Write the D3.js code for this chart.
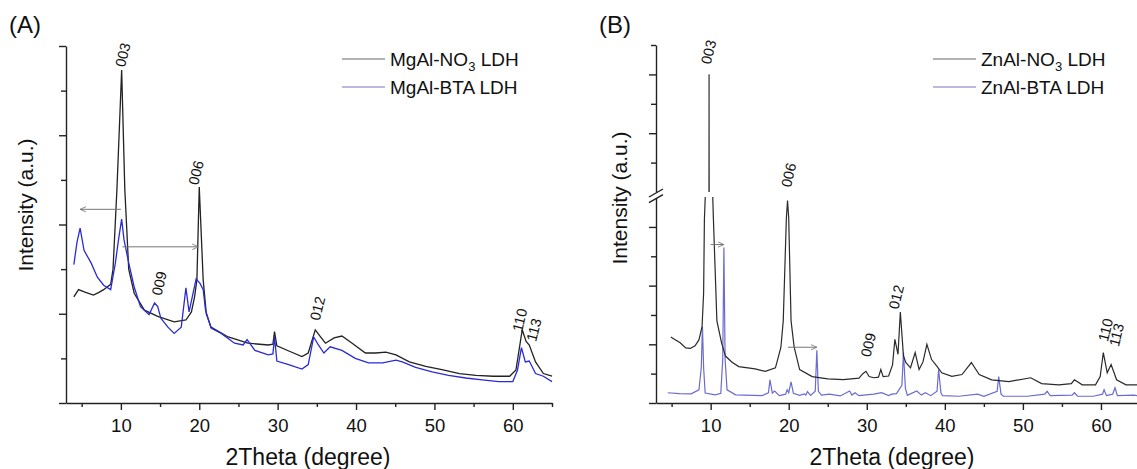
<!DOCTYPE html>
<html>
<head>
<meta charset="utf-8">
<script src="https://cdn.jsdelivr.net/npm/d3@7"></script>
<style>
  body { margin: 0; background: #fff; }
  svg { font-family: "Liberation Sans", Arial, sans-serif; }
  .axis path, .axis line { stroke: #222; stroke-width: 1.4; }
  .axis text { font-size: 18.5px; fill: #111; }
</style>
</head>
<body>
<svg width="1137" height="469"></svg>
<script>
// 2theta / intensity pairs (arbitrary units)
const mgNO3 = [
  [4.0,1.19],[4.6,1.27],[5.5,1.24],[6.5,1.21],[7.2,1.24],[7.8,1.27],[8.7,1.33],[9.0,1.5],[9.5,2.4],
  [10.1,3.73],[10.5,2.4],[11.0,1.5],[11.7,1.23],[13.0,1.04],[14.7,0.97],[16.8,0.91],[18.3,0.93],
  [19.0,1.02],[19.4,1.19],[19.7,1.38],[20.0,2.42],[20.5,1.38],[20.9,1.0],[21.5,0.85],[23.7,0.74],
  [26.2,0.67],[28.8,0.65],[29.4,0.66],[29.6,0.8],[29.9,0.64],[31.5,0.58],[33.1,0.52],[33.9,0.56],
  [34.8,0.82],[35.4,0.75],[36.1,0.67],[37.2,0.73],[38.2,0.75],[39.5,0.67],[41.2,0.56],[42.5,0.56],
  [43.8,0.57],[45.1,0.54],[46.8,0.46],[48.9,0.41],[51.1,0.37],[53.2,0.33],[55.3,0.31],[57.5,0.3],
  [59.6,0.3],[60.4,0.37],[61.2,0.82],[61.7,0.69],[62.1,0.65],[62.9,0.46],[63.9,0.33],[65.0,0.3]
];
const mgBTA = [
  [4.0,1.55],[4.4,1.8],[4.8,1.96],[5.3,1.71],[6.2,1.57],[7.0,1.41],[7.8,1.32],[8.7,1.27],[9.3,1.57],
  [9.7,1.83],[10.1,2.06],[10.4,1.83],[11.0,1.57],[11.7,1.3],[12.5,1.08],[13.6,0.99],[14.3,1.12],
  [14.7,1.08],[15.1,0.95],[16.0,0.85],[16.8,0.78],[17.7,0.85],[18.3,1.29],[18.7,1.02],[19.6,1.39],
  [20.1,1.34],[20.5,1.27],[20.8,1.04],[21.5,0.84],[22.8,0.78],[24.5,0.67],[25.6,0.65],[26.1,0.71],
  [27.1,0.59],[28.8,0.54],[29.4,0.55],[29.6,0.74],[29.9,0.47],[31.4,0.43],[33.1,0.38],[33.9,0.43],
  [34.6,0.74],[35.2,0.65],[35.9,0.56],[36.7,0.63],[38.2,0.59],[39.9,0.5],[41.6,0.45],[43.4,0.45],
  [45.1,0.48],[45.9,0.46],[47.6,0.4],[49.7,0.35],[51.8,0.31],[54.0,0.28],[56.1,0.26],[58.2,0.24],
  [60.0,0.24],[60.6,0.37],[61.1,0.62],[61.6,0.46],[62.1,0.47],[62.9,0.33],[63.9,0.3],[65.0,0.24]
];
const znNO3 = [
  [4.9,2.25],[5.5,2.15],[6.1,2.05],[6.8,1.88],[7.4,1.86],[8.0,1.95],[8.5,2.15],[8.9,2.6],[9.1,3.75],
  [9.2,6.25],[9.35,7.3],[9.75,7.6],[9.8,12.0],[9.85,7.6],[10.25,7.2],[10.35,6.3],[10.8,2.8],
  [11.4,2.05],[11.9,1.6],[12.7,1.4],[13.6,1.24],[15.7,1.16],[17.0,1.08],[18.3,1.2],[18.7,1.6],
  [19.0,1.9],[19.3,2.8],[19.7,6.3],[19.85,6.9],[20.0,6.3],[20.3,2.8],[20.7,1.9],[21.4,1.14],
  [23.0,0.9],[25.0,0.82],[27.0,0.8],[29.0,0.85],[29.5,1.0],[29.9,1.08],[30.3,0.9],[30.9,0.86],
  [31.5,0.88],[31.8,1.14],[32.1,0.9],[32.8,0.92],[33.3,1.3],[33.6,2.17],[34.0,1.66],[34.3,3.1],
  [34.7,1.6],[35.0,1.38],[35.6,1.2],[36.2,1.72],[36.7,1.14],[37.2,1.4],[37.7,2.0],[38.3,1.48],
  [39.0,1.25],[39.6,1.03],[40.9,0.91],[42.2,0.97],[43.4,1.38],[44.4,0.97],[46.0,0.79],[48.2,0.73],
  [51.0,0.86],[52.4,0.66],[54.6,0.62],[56.2,0.66],[56.6,0.79],[57.6,0.62],[59.3,0.62],[59.9,0.9],
  [60.3,1.72],[60.8,1.03],[61.3,1.31],[62.0,0.79],[63.2,0.62],[64.5,0.62],[65.0,0.6]
];
const znBTA = [
  [4.5,0.35],[6.0,0.32],[7.5,0.31],[8.5,0.45],[8.8,1.2],[8.95,2.6],[9.1,1.2],[9.3,0.34],[10.6,0.28],
  [11.3,0.33],[11.55,1.5],[11.7,5.3],[11.85,1.5],[12.1,0.45],[13.2,0.28],[16.6,0.25],[17.4,0.35],
  [17.6,0.79],[17.9,0.34],[18.2,0.41],[18.8,0.25],[19.6,0.3],[19.8,0.45],[20.0,0.35],[20.3,0.72],
  [20.6,0.33],[21.4,0.26],[22.0,0.31],[22.2,0.27],[22.4,0.39],[22.8,0.26],[23.4,0.4],[23.6,1.8],
  [23.8,0.4],[24.2,0.27],[25.2,0.3],[26.6,0.24],[27.8,0.41],[28.1,0.27],[28.5,0.35],[29.0,0.25],
  [30.9,0.3],[31.9,0.35],[32.8,0.25],[33.2,0.3],[33.8,0.32],[34.5,0.6],[34.7,1.72],[34.95,0.5],
  [35.2,0.26],[36.4,0.41],[37.0,0.27],[37.5,0.35],[38.2,0.25],[39.0,0.4],[39.2,1.14],[39.5,0.35],
  [39.7,0.25],[41.8,0.23],[44.2,0.3],[45.0,0.23],[46.7,0.4],[46.9,0.9],[47.2,0.3],[47.5,0.23],
  [50.6,0.23],[52.8,0.3],[53.1,0.4],[53.5,0.25],[56.3,0.27],[56.6,0.35],[57.0,0.23],[59.0,0.23],
  [60.2,0.3],[60.4,0.45],[60.7,0.25],[61.5,0.3],[61.8,0.52],[62.1,0.25],[64.2,0.27],[65.0,0.24]
];

const peaksA = [["003",10.25,3.9],["006",19.6,2.58],["009",14.9,1.34],["012",35.1,1.06],["110",60.9,0.93],["113",62.7,0.82]];
const peaksB = [["003",9.74,12.76,"up"],["006",20.0,7.77],["009",30.2,1.98],["012",33.8,3.61],["110",60.6,2.49],["113",62.0,2.32]];
// shift arrows: [from, to, level]
const arrowsA = [[10.0,4.8,2.17],[10.2,19.9,1.75]];
const arrowsB = [[10.0,11.7,5.4],[19.9,23.6,1.9]];

const xMajor = [10,20,30,40,50,60];
const xMinor = [5,15,25,35,45,55,65];

const svg = d3.select("svg");

const defs = svg.append("defs");
defs.append("marker").attr("id","arr").attr("viewBox","0 0 10 10")
  .attr("refX",9).attr("refY",5).attr("markerWidth",7).attr("markerHeight",7).attr("orient","auto")
  .append("path").attr("d","M0,1 L9,5 L0,9").attr("fill","none").attr("stroke","#777").attr("stroke-width",1.2);

const drawXAxis = (xs, y0, cx) => {
  svg.append("g").attr("class","axis").attr("transform","translate(0,"+y0+")")
    .call(d3.axisBottom(xs).tickValues(xMajor).tickSize(7).tickSizeOuter(0).tickFormat(d3.format("d")))
    .selectAll("text").attr("dy","1.0em");
  svg.append("g").attr("class","axis").attr("transform","translate(0,"+y0+")")
    .call(d3.axisBottom(xs).tickValues(xMinor).tickSize(4).tickFormat(""))
    .select(".domain").remove();
  svg.append("text").attr("x",cx).attr("y",465).attr("text-anchor","middle")
    .attr("font-size",23).attr("fill","#111").text("2Theta (degree)");
};

const drawLabels = (peaks, xs, ysOf) => {
  peaks.forEach(p => {
    svg.append("text")
      .attr("transform","translate("+xs(p[1])+","+ysOf(p)(p[2])+") rotate(-76)")
      .attr("text-anchor","middle").attr("dominant-baseline","central")
      .attr("font-size",14.5).attr("fill","#111").text(p[0]);
  });
};

const drawArrows = (arrows, xs, ys) => {
  arrows.forEach(a => {
    svg.append("line").attr("x1",xs(a[0])).attr("x2",xs(a[1])).attr("y1",ys(a[2])).attr("y2",ys(a[2]))
      .attr("stroke","#777").attr("stroke-width",1).attr("marker-end","url(#arr)");
  });
};

const drawLegend = (x0, names, colors) => {
  names.forEach((n, i) => {
    const y = 59 + i * 28;
    svg.append("line").attr("x1",x0).attr("x2",x0+43).attr("y1",y).attr("y2",y)
      .attr("stroke",colors[i]).attr("stroke-width",1.3);
    const t = svg.append("text").attr("x",x0+48).attr("y",y+7).attr("font-size",19).attr("fill","#111");
    if (n.sub) {
      t.append("tspan").text(n.pre);
      t.append("tspan").attr("dy",5).attr("font-size",13).text(n.sub);
      t.append("tspan").attr("dy",-5).text(n.post);
    } else {
      t.text(n.pre);
    }
  });
};

// ---------- panel A ----------
const xA = d3.scaleLinear().domain([3,65]).range([66,552]);
const yA = d3.scaleLinear().domain([0,4]).range([403,46]);

const lineA = d3.line().x(d => xA(d[0])).y(d => yA(d[1]));
svg.append("path").datum(mgNO3).attr("d",lineA).attr("fill","none").attr("stroke","#222").attr("stroke-width",1.3);
svg.append("path").datum(mgBTA).attr("d",lineA).attr("fill","none").attr("stroke","#2b2bd6").attr("stroke-width",1.3);

svg.append("g").attr("class","axis").attr("transform","translate(66,0)")
  .call(d3.axisLeft(yA).tickValues([0,1,2,3,4]).tickSize(7).tickSizeOuter(0).tickFormat(""));
svg.append("g").attr("class","axis").attr("transform","translate(66,0)")
  .call(d3.axisLeft(yA).tickValues([0.5,1.5,2.5,3.5]).tickSize(5).tickFormat(""))
  .select(".domain").remove();
drawXAxis(xA, 403, 308);

drawArrows(arrowsA, xA, yA);
drawLabels(peaksA, xA, () => yA);
drawLegend(342, [{pre:"MgAl-NO",sub:"3",post:" LDH"},{pre:"MgAl-BTA LDH"}], ["#999","#a3a3d6"]);

svg.append("text").attr("transform","translate(33,205) rotate(-90)").attr("text-anchor","middle")
  .attr("font-size",21).attr("fill","#111").text("Intensity (a.u.)");
svg.append("text").attr("x",9).attr("y",33).attr("font-size",24).attr("fill","#111").text("(A)");

// ---------- panel B (broken y axis) ----------
const xB = d3.scaleLinear().domain([3,65]).range([656,1140]);
const yLow = d3.scaleLinear().domain([0,7]).range([403,197.6]);
const yUp = d3.scaleLinear().domain([8,13]).range([192,45]);

defs.append("clipPath").attr("id","clipLow").append("rect").attr("x",656).attr("y",197).attr("width",490).attr("height",210);
defs.append("clipPath").attr("id","clipUp").append("rect").attr("x",656).attr("y",0).attr("width",490).attr("height",192);

const lineLow = d3.line().x(d => xB(d[0])).y(d => yLow(d[1]));
const lineUp = d3.line().x(d => xB(d[0])).y(d => yUp(d[1]));

svg.append("path").datum(znBTA).attr("d",lineLow).attr("clip-path","url(#clipLow)")
  .attr("fill","none").attr("stroke","#6b6bd2").attr("stroke-width",1.2);
svg.append("path").datum(znNO3).attr("d",lineLow).attr("clip-path","url(#clipLow)")
  .attr("fill","none").attr("stroke","#2a2a2a").attr("stroke-width",1.2);
svg.append("path").datum(znNO3).attr("d",lineUp).attr("clip-path","url(#clipUp)")
  .attr("fill","none").attr("stroke","#555").attr("stroke-width",1);

svg.append("g").attr("class","axis").attr("transform","translate(656,0)")
  .call(d3.axisLeft(yLow).tickValues([0,2,4,6]).tickSize(7).tickSizeOuter(0).tickFormat(""));
svg.append("g").attr("class","axis").attr("transform","translate(656,0)")
  .call(d3.axisLeft(yLow).tickValues([1,3,5]).tickSize(5).tickFormat(""))
  .select(".domain").remove();
svg.append("g").attr("class","axis").attr("transform","translate(656,0)")
  .call(d3.axisLeft(yUp).tickValues([10,12]).tickSize(7).tickSizeOuter(0).tickFormat(""));
svg.append("g").attr("class","axis").attr("transform","translate(656,0)")
  .call(d3.axisLeft(yUp).tickValues([9,11,13]).tickSize(5).tickFormat(""))
  .select(".domain").remove();

// break marks
[yLow.range()[1] + 1, yUp.range()[0] + 1].forEach(yb => {
  svg.append("line").attr("x1",649).attr("x2",663).attr("y1",yb+4).attr("y2",yb-4)
    .attr("stroke","#222").attr("stroke-width",1.4);
});

drawXAxis(xB, 403, 892);

drawArrows(arrowsB, xB, yLow);
drawLabels(peaksB, xB, p => p[3] === "up" ? yUp : yLow);
drawLegend(933, [{pre:"ZnAl-NO",sub:"3",post:" LDH"},{pre:"ZnAl-BTA LDH"}], ["#999","#a3a3d6"]);

svg.append("text").attr("transform","translate(627,198) rotate(-90)").attr("text-anchor","middle")
  .attr("font-size",21).attr("fill","#111").text("Intensity (a.u.)");
svg.append("text").attr("x",599).attr("y",33).attr("font-size",24).attr("fill","#111").text("(B)");
</script>
</body>
</html>
